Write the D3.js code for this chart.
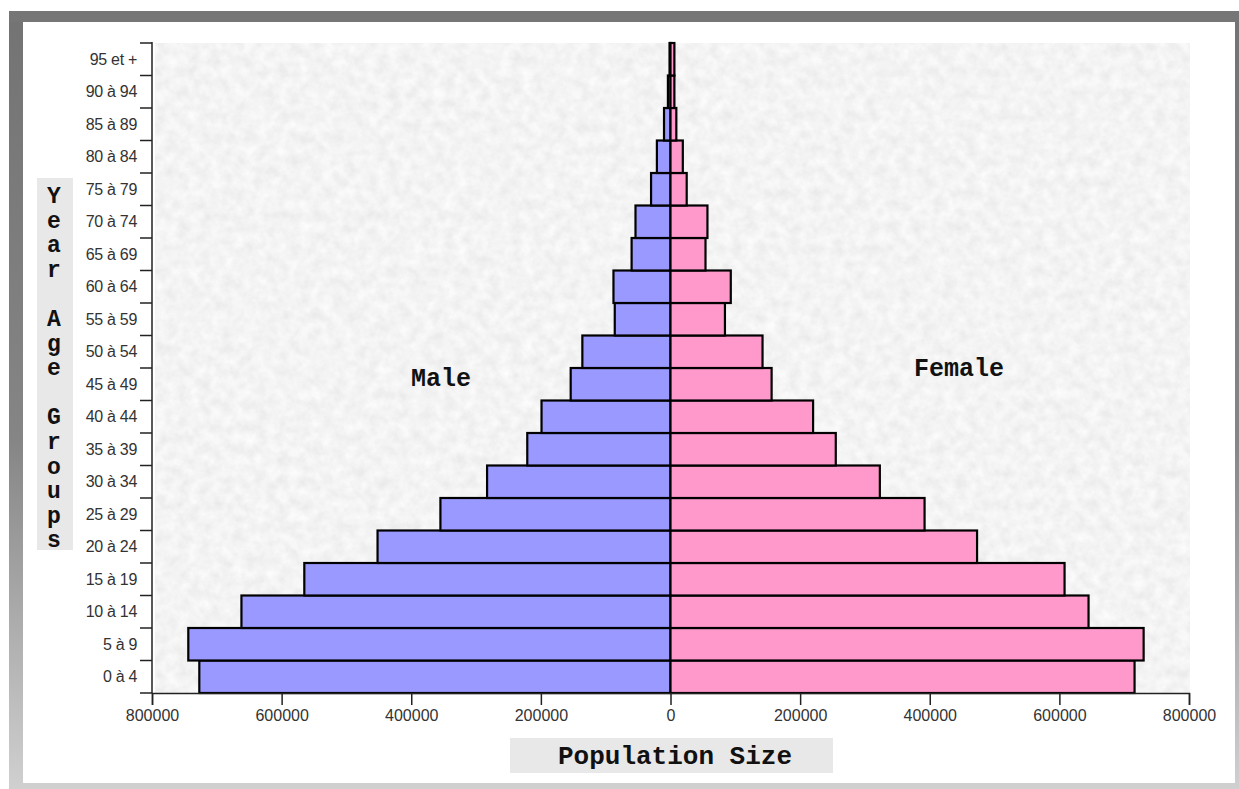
<!DOCTYPE html>
<html>
<head>
<meta charset="utf-8">
<script src="https://cdn.jsdelivr.net/npm/d3@7"></script>
<style>
    body { margin: 0; background: #fff; }
    svg { display: block; }
</style>
</head>
<body>
<svg id="chart" width="1239" height="789"></svg>
<script>
// age groups, bottom to top
const ageGroups = ['0 à 4', '5 à 9', '10 à 14', '15 à 19', '20 à 24', '25 à 29', '30 à 34',
    '35 à 39', '40 à 44', '45 à 49', '50 à 54', '55 à 59', '60 à 64', '65 à 69',
    '70 à 74', '75 à 79', '80 à 84', '85 à 89', '90 à 94', '95 et +']
const male = [727000, 744000, 662000, 565000, 452000, 355000, 283000, 221000, 199000,
    154000, 136000, 86000, 88000, 60000, 54000, 30000, 21000, 10000, 4000, 1500]
const female = [716000, 730000, 645000, 608000, 473000, 392000, 323000, 255000, 220000,
    156000, 142000, 84000, 93000, 54000, 57000, 25000, 19000, 9000, 6000, 6000]
const xTicks = [-800000, -600000, -400000, -200000, 0, 200000, 400000, 600000, 800000]
const yTitle = 'Year Age Groups'
const xTitle = 'Population Size'

const W = 1239, H = 789
const plotL = 152, plotR = 1189, plotT = 43, plotB = 693
const mono = 'Liberation Mono, Courier New, monospace'
const sans = 'Liberation Sans, Arial, sans-serif'

let svg = d3.select('#chart')
let defs = svg.append('defs')

// frame gradient, dark at the top fading down
let grad = defs.append('linearGradient')
    .attr('id', 'frameGrad')
    .attr('x1', 0).attr('y1', 0).attr('x2', 0).attr('y2', 1)
grad.append('stop').attr('offset', '0%').attr('stop-color', '#737373')
grad.append('stop').attr('offset', '55%').attr('stop-color', '#858585')
grad.append('stop').attr('offset', '100%').attr('stop-color', '#d0d0d0')

// paper texture for the plot area
let tex = defs.append('filter')
    .attr('id', 'paper')
    .attr('x', 0).attr('y', 0).attr('width', '100%').attr('height', '100%')
tex.append('feTurbulence')
    .attr('type', 'fractalNoise')
    .attr('baseFrequency', 0.09)
    .attr('numOctaves', 4)
    .attr('seed', 7)
tex.append('feColorMatrix')
    .attr('type', 'matrix')
    .attr('values', '0.2 0 0 0 0.8  0.2 0 0 0 0.8  0.2 0 0 0 0.8  0 0 0 0 1')

// outer frame
svg.append('rect')
    .attr('x', 9).attr('y', 11)
    .attr('width', W - 9).attr('height', H - 11)
    .attr('fill', 'url(#frameGrad)')
svg.append('rect')
    .attr('x', 9).attr('y', 11)
    .attr('width', W - 9).attr('height', 11)
    .attr('fill', '#767676')
svg.append('rect')
    .attr('x', 23).attr('y', 22)
    .attr('width', 1235 - 23).attr('height', 783 - 22)
    .attr('fill', '#ffffff')

// plot background
svg.append('rect')
    .attr('x', 155).attr('y', plotT)
    .attr('width', 1190 - 155).attr('height', plotB - plotT)
    .attr('filter', 'url(#paper)')

let x = d3.scaleLinear()
    .domain([-800000, 800000])
    .range([plotL, plotR])

let y = d3.scaleBand()
    .domain(ageGroups)
    .range([plotB, plotT])
    .padding(0)

// bars
let rows = ageGroups.map((g, i) => ({group: g, m: male[i], f: female[i]}))

svg.append('g').selectAll('rect')
    .data(rows)
    .join('rect')
        .attr('x', d => x(-d.m))
        .attr('y', d => y(d.group))
        .attr('width', d => x(0) - x(-d.m))
        .attr('height', y.bandwidth())
        .attr('fill', '#9999ff')
        .attr('stroke', '#000')
        .attr('stroke-width', 2.2)

svg.append('g').selectAll('rect')
    .data(rows)
    .join('rect')
        .attr('x', x(0))
        .attr('y', d => y(d.group))
        .attr('width', d => x(d.f) - x(0))
        .attr('height', y.bandwidth())
        .attr('fill', '#ff99cc')
        .attr('stroke', '#000')
        .attr('stroke-width', 2.2)

// y axis with ticks on the band edges
let yAxis = svg.append('g').attr('class', 'y-axis')
yAxis.append('line')
    .attr('x1', plotL).attr('x2', plotL)
    .attr('y1', plotT - 1).attr('y2', plotB)
    .attr('stroke', '#222').attr('stroke-width', 1.5)
let edges = ageGroups.map(g => y(g)).concat([plotB])
yAxis.selectAll('line.tick')
    .data(edges)
    .join('line')
        .attr('class', 'tick')
        .attr('x1', plotL - 12).attr('x2', plotL)
        .attr('y1', d => d).attr('y2', d => d)
        .attr('stroke', '#222').attr('stroke-width', 1.5)
yAxis.selectAll('text')
    .data(ageGroups)
    .join('text')
        .attr('x', 137)
        .attr('y', d => y(d) + y.bandwidth() / 2)
        .attr('dy', '0.35em')
        .attr('text-anchor', 'end')
        .attr('font-family', sans)
        .attr('font-size', 16)
        .attr('letter-spacing', -0.3)
        .attr('fill', '#333')
        .text(d => d)

// x axis
let xAxis = svg.append('g')
    .attr('transform', 'translate(0,' + plotB + ')')
    .call(d3.axisBottom(x)
        .tickValues(xTicks)
        .tickSize(12)
        .tickFormat(d => Math.abs(d)))
xAxis.select('.domain').attr('stroke', '#222').attr('stroke-width', 1.5)
xAxis.selectAll('.tick line').attr('stroke', '#222').attr('stroke-width', 1.5)
xAxis.selectAll('.tick text')
    .attr('y', 17)
    .attr('font-family', sans)
    .attr('font-size', 16)
    .attr('fill', '#333')

// x title
svg.append('rect')
    .attr('x', 510).attr('y', 738)
    .attr('width', 323).attr('height', 35)
    .attr('fill', '#e8e8e8')
svg.append('text')
    .attr('x', 675).attr('y', 764)
    .attr('text-anchor', 'middle')
    .attr('font-family', mono)
    .attr('font-weight', 'bold')
    .attr('font-size', 26)
    .attr('fill', '#111')
    .text(xTitle)

// y title, one letter per line
svg.append('rect')
    .attr('x', 37).attr('y', 178)
    .attr('width', 36).attr('height', 372)
    .attr('fill', '#e8e8e8')
svg.append('g').selectAll('text')
    .data(yTitle.split(''))
    .join('text')
        .attr('x', 54)
        .attr('y', (d, i) => 195 + i * 24.6)
        .attr('dy', '0.35em')
        .attr('text-anchor', 'middle')
        .attr('font-family', mono)
        .attr('font-weight', 'bold')
        .attr('font-size', 23)
        .attr('fill', '#111')
        .text(d => d)

// series labels
svg.append('text')
    .attr('x', 441).attr('y', 386)
    .attr('text-anchor', 'middle')
    .attr('font-family', mono)
    .attr('font-weight', 'bold')
    .attr('font-size', 25)
    .attr('fill', '#111')
    .text('Male')
svg.append('text')
    .attr('x', 959).attr('y', 376)
    .attr('text-anchor', 'middle')
    .attr('font-family', mono)
    .attr('font-weight', 'bold')
    .attr('font-size', 25)
    .attr('fill', '#111')
    .text('Female')
</script>
</body>
</html>
